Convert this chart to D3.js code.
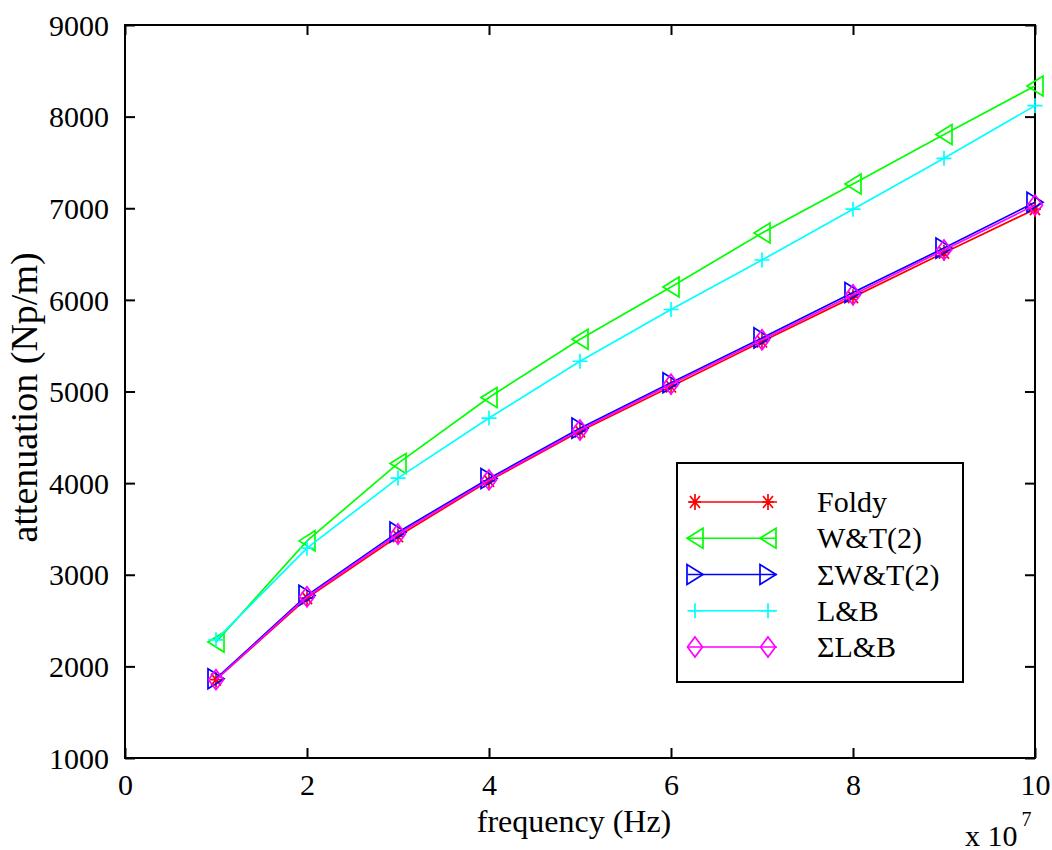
<!DOCTYPE html>
<html>
<head>
<meta charset="utf-8">
<script src="https://cdn.jsdelivr.net/npm/d3@7"></script>
<style>
  body { margin: 0; background: #fff; }
</style>
</head>
<body>
<svg id="chart" width="1052" height="850"></svg>
<script>
// frequency in units of 1e7 Hz
const freq = [1, 2, 3, 4, 5, 6, 7, 8, 9, 10];
const foldy  = [1855, 2745, 3420, 4025, 4565, 5055, 5545, 6030, 6515, 6990];
const wt2    = [2265, 3370, 4215, 4935, 5570, 6140, 6730, 7265, 7805, 8335];
const sumWt2 = [1865, 2775, 3465, 4050, 4600, 5095, 5585, 6080, 6565, 7065];
const lb     = [2290, 3290, 4055, 4710, 5330, 5895, 6435, 6990, 7545, 8120];
const sumLb  = [1855, 2760, 3445, 4035, 4580, 5080, 5565, 6055, 6545, 7035];
const xTicks = [0, 2, 4, 6, 8, 10];
const yTicks = [1000, 2000, 3000, 4000, 5000, 6000, 7000, 8000, 9000];

const series = [
  {name: 'Foldy',      values: foldy,  color: '#ff0000', marker: 'star'},
  {name: 'W&T(2)',     values: wt2,    color: '#00ff00', marker: 'triLeft'},
  {name: '\u03a3W&T(2)', values: sumWt2, color: '#0000ff', marker: 'triRight'},
  {name: 'L&B',        values: lb,     color: '#00ffff', marker: 'plus'},
  {name: '\u03a3L&B',  values: sumLb,  color: '#ff00ff', marker: 'diamond'}
];

const svg = d3.select('#chart');
const plotLeft = 125, plotRight = 1035, plotTop = 25, plotBottom = 758;
const fontSize = 30;
const serif = '"Liberation Serif", "Times New Roman", serif';

const xScale = d3.scaleLinear().domain([0, 10]).range([plotLeft, plotRight]);
const yScale = d3.scaleLinear().domain([1000, 9000]).range([plotBottom, plotTop]);

// marker shapes, centered at 0,0
const markerPath = {
  triLeft:  'M-8,0 L8,-10 L8,10 Z',
  triRight: 'M8,0 L-8,-10 L-8,10 Z',
  diamond:  'M0,-10 L7.5,0 L0,10 L-7.5,0 Z',
  plus:     'M-7.5,0 L7.5,0 M0,-7.5 L0,7.5',
  star:     'M-6,0 L6,0 M0,-8 L0,8 M-5,-6 L5,6 M-5,6 L5,-6'
};

// ticks on all four sides, pointing inward
const tickLen = 10;
function styleAxis(g) {
  g.select('.domain').remove();
  g.selectAll('.tick line').attr('stroke', '#000').attr('stroke-width', 2);
  g.selectAll('text')
    .style('font-family', serif)
    .style('font-size', fontSize + 'px')
    .style('fill', '#000');
}
svg.append('g')
  .attr('transform', `translate(0,${plotBottom})`)
  .call(d3.axisBottom(xScale).tickValues(xTicks).tickSizeInner(-tickLen).tickSizeOuter(0).tickPadding(16))
  .call(styleAxis)
  .selectAll('text').attr('dy', '0.71em');
svg.append('g')
  .attr('transform', `translate(0,${plotTop})`)
  .call(d3.axisTop(xScale).tickValues(xTicks).tickSizeInner(-tickLen).tickSizeOuter(0).tickFormat(''))
  .call(styleAxis);
svg.append('g')
  .attr('transform', `translate(${plotLeft},0)`)
  .call(d3.axisLeft(yScale).tickValues(yTicks).tickSizeInner(-tickLen).tickSizeOuter(0).tickPadding(16).tickFormat(d3.format('d')))
  .call(styleAxis)
  .selectAll('text').attr('dy', '0.34em');
svg.append('g')
  .attr('transform', `translate(${plotRight},0)`)
  .call(d3.axisRight(yScale).tickValues(yTicks).tickSizeInner(-tickLen).tickSizeOuter(0).tickFormat(''))
  .call(styleAxis);

// plot frame
svg.append('rect')
  .attr('x', plotLeft).attr('y', plotTop)
  .attr('width', plotRight - plotLeft).attr('height', plotBottom - plotTop)
  .attr('fill', 'none').attr('stroke', '#000').attr('stroke-width', 2);

// lines and markers
const line = d3.line().x((d, i) => xScale(freq[i])).y(d => yScale(d));
series.forEach(s => {
  const g = svg.append('g');
  g.append('path')
    .attr('d', line(s.values))
    .attr('fill', 'none').attr('stroke', s.color).attr('stroke-width', 1.7);
  g.selectAll('.mk').data(s.values).enter().append('path')
    .attr('class', 'mk')
    .attr('transform', (d, i) => `translate(${xScale(freq[i])},${yScale(d)})`)
    .attr('d', markerPath[s.marker])
    .attr('fill', 'none').attr('stroke', s.color).attr('stroke-width', 1.7);
});

// axis labels
svg.append('text')
  .attr('x', (plotLeft + plotRight) / 2 - 6).attr('y', 832)
  .attr('text-anchor', 'middle')
  .style('font-family', serif).style('font-size', '32px')
  .text('frequency (Hz)');
svg.append('text')
  .attr('transform', `translate(37,${(plotTop + plotBottom) / 2 + 6}) rotate(-90)`)
  .attr('text-anchor', 'middle')
  .style('font-family', serif).style('font-size', '38px')
  .text('attenuation (Np/m)');
const expo = svg.append('text')
  .attr('x', 965).attr('y', 846)
  .style('font-family', serif).style('font-size', fontSize + 'px');
expo.append('tspan').text('x 10');
expo.append('tspan').style('font-size', '20px').attr('dx', 4).attr('dy', -20).text('7');

// legend
const lg = svg.append('g').attr('transform', 'translate(677,463)');
lg.append('rect')
  .attr('width', 286).attr('height', 219)
  .attr('fill', '#fff').attr('stroke', '#000').attr('stroke-width', 2);
const rowY = d3.scaleLinear().domain([0, 4]).range([39, 184]);
series.forEach((s, i) => {
  const yy = rowY(i);
  lg.append('line')
    .attr('x1', 11).attr('x2', 100).attr('y1', yy).attr('y2', yy)
    .attr('stroke', s.color).attr('stroke-width', 1.7);
  [18, 91].forEach(mx => {
    lg.append('path')
      .attr('transform', `translate(${mx},${yy})`)
      .attr('d', markerPath[s.marker])
      .attr('fill', 'none').attr('stroke', s.color).attr('stroke-width', 1.7);
  });
  lg.append('text')
    .attr('x', 140).attr('y', yy + 10)
    .style('font-family', serif).style('font-size', fontSize + 'px')
    .text(s.name);
});
</script>
</body>
</html>
